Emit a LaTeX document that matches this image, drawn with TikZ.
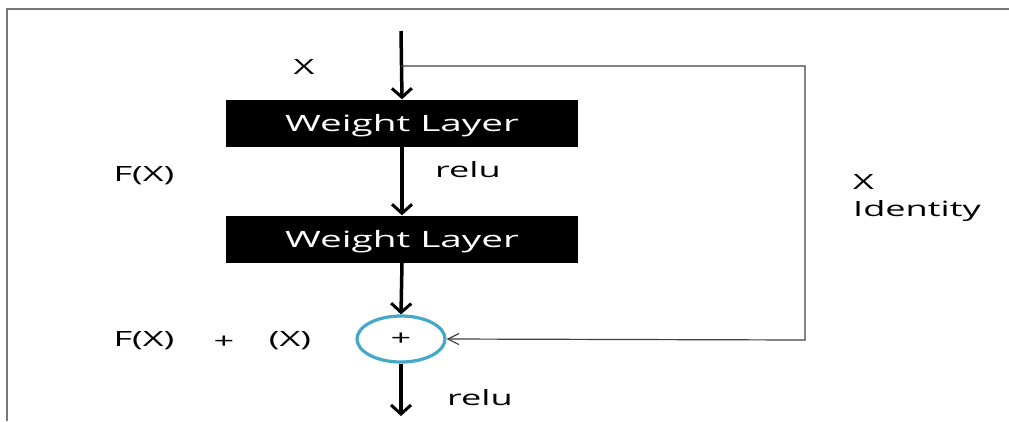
\documentclass[tikz,border=0pt]{standalone}
\usepackage{fontspec}
\setmainfont{Open Sans}
\newfontfamily\widefont[FakeStretch=1.72]{Open Sans}
\usetikzlibrary{arrows.meta,shapes.geometric}
\definecolor{ringblue}{RGB}{70,168,200}
\definecolor{frame}{RGB}{120,120,120}
\tikzset{
  layer/.style={fill=black, text=white, minimum width=352pt, minimum height=47pt, inner sep=0pt, text depth=0pt, font=\widefont\fontsize{22.5}{26}\selectfont},
  lbl/.style={font=\widefont\fontsize{21}{24}\selectfont, inner sep=0pt},
  flow/.style={line width=3.5pt, -{Straight Barb[length=9pt,width=20pt,line width=3pt]}},
  skip/.style={line width=1.2pt, draw=black!75, -{Straight Barb[length=11pt,width=11pt,line width=1.2pt]}},
}
\begin{document}
\begin{tikzpicture}[x=1pt,y=-1pt]
\useasboundingbox (0,0) rectangle (1009,421);
\draw[frame, line width=2.5pt] (7,421) -- (7,9) -- (1009,9);
\coordinate (top) at (401,31);
\coordinate (split) at (401,66);
\coordinate (cr1) at (805,66);
\coordinate (cr2) at (805,340);
\coordinate (bot) at (401,416);
\node[layer] (w1) at (402,123) {Weight Layer};
\node[layer] (w2) at (402,239) {Weight Layer};
\node[ellipse, draw=ringblue, line width=3.2pt, minimum width=88pt, minimum height=46pt, inner sep=0pt, font=\widefont\fontsize{21}{24}\selectfont] (sum) at (401,339) {+};
\draw[flow] (top) -- (w1.north);
\draw[flow] (w1.south) -- (w2.north);
\draw[flow] (w2.south) -- (sum.north);
\draw[flow] (sum.south) -- (bot);
\draw[skip] (split) -- (cr1) -- (cr2) -- (sum.east);
\node[lbl] (x) at (304,67) {X};
\node[lbl] (relu1) at (468,170) {relu};
\node[lbl] (fx) at (144,176) {F(X)};
\node[lbl, anchor=west] (xi) at (853,182) {X};
\node[lbl, anchor=west] (id) at (853,211) {Identity};
\node[lbl] (fx2) at (144,341) {F(X)};
\node[lbl] (plus) at (224,342) {+};
\node[lbl] (xx) at (290,341) {(X)};
\node[lbl] (relu2) at (480,398) {relu};
\end{tikzpicture}
\end{document}
